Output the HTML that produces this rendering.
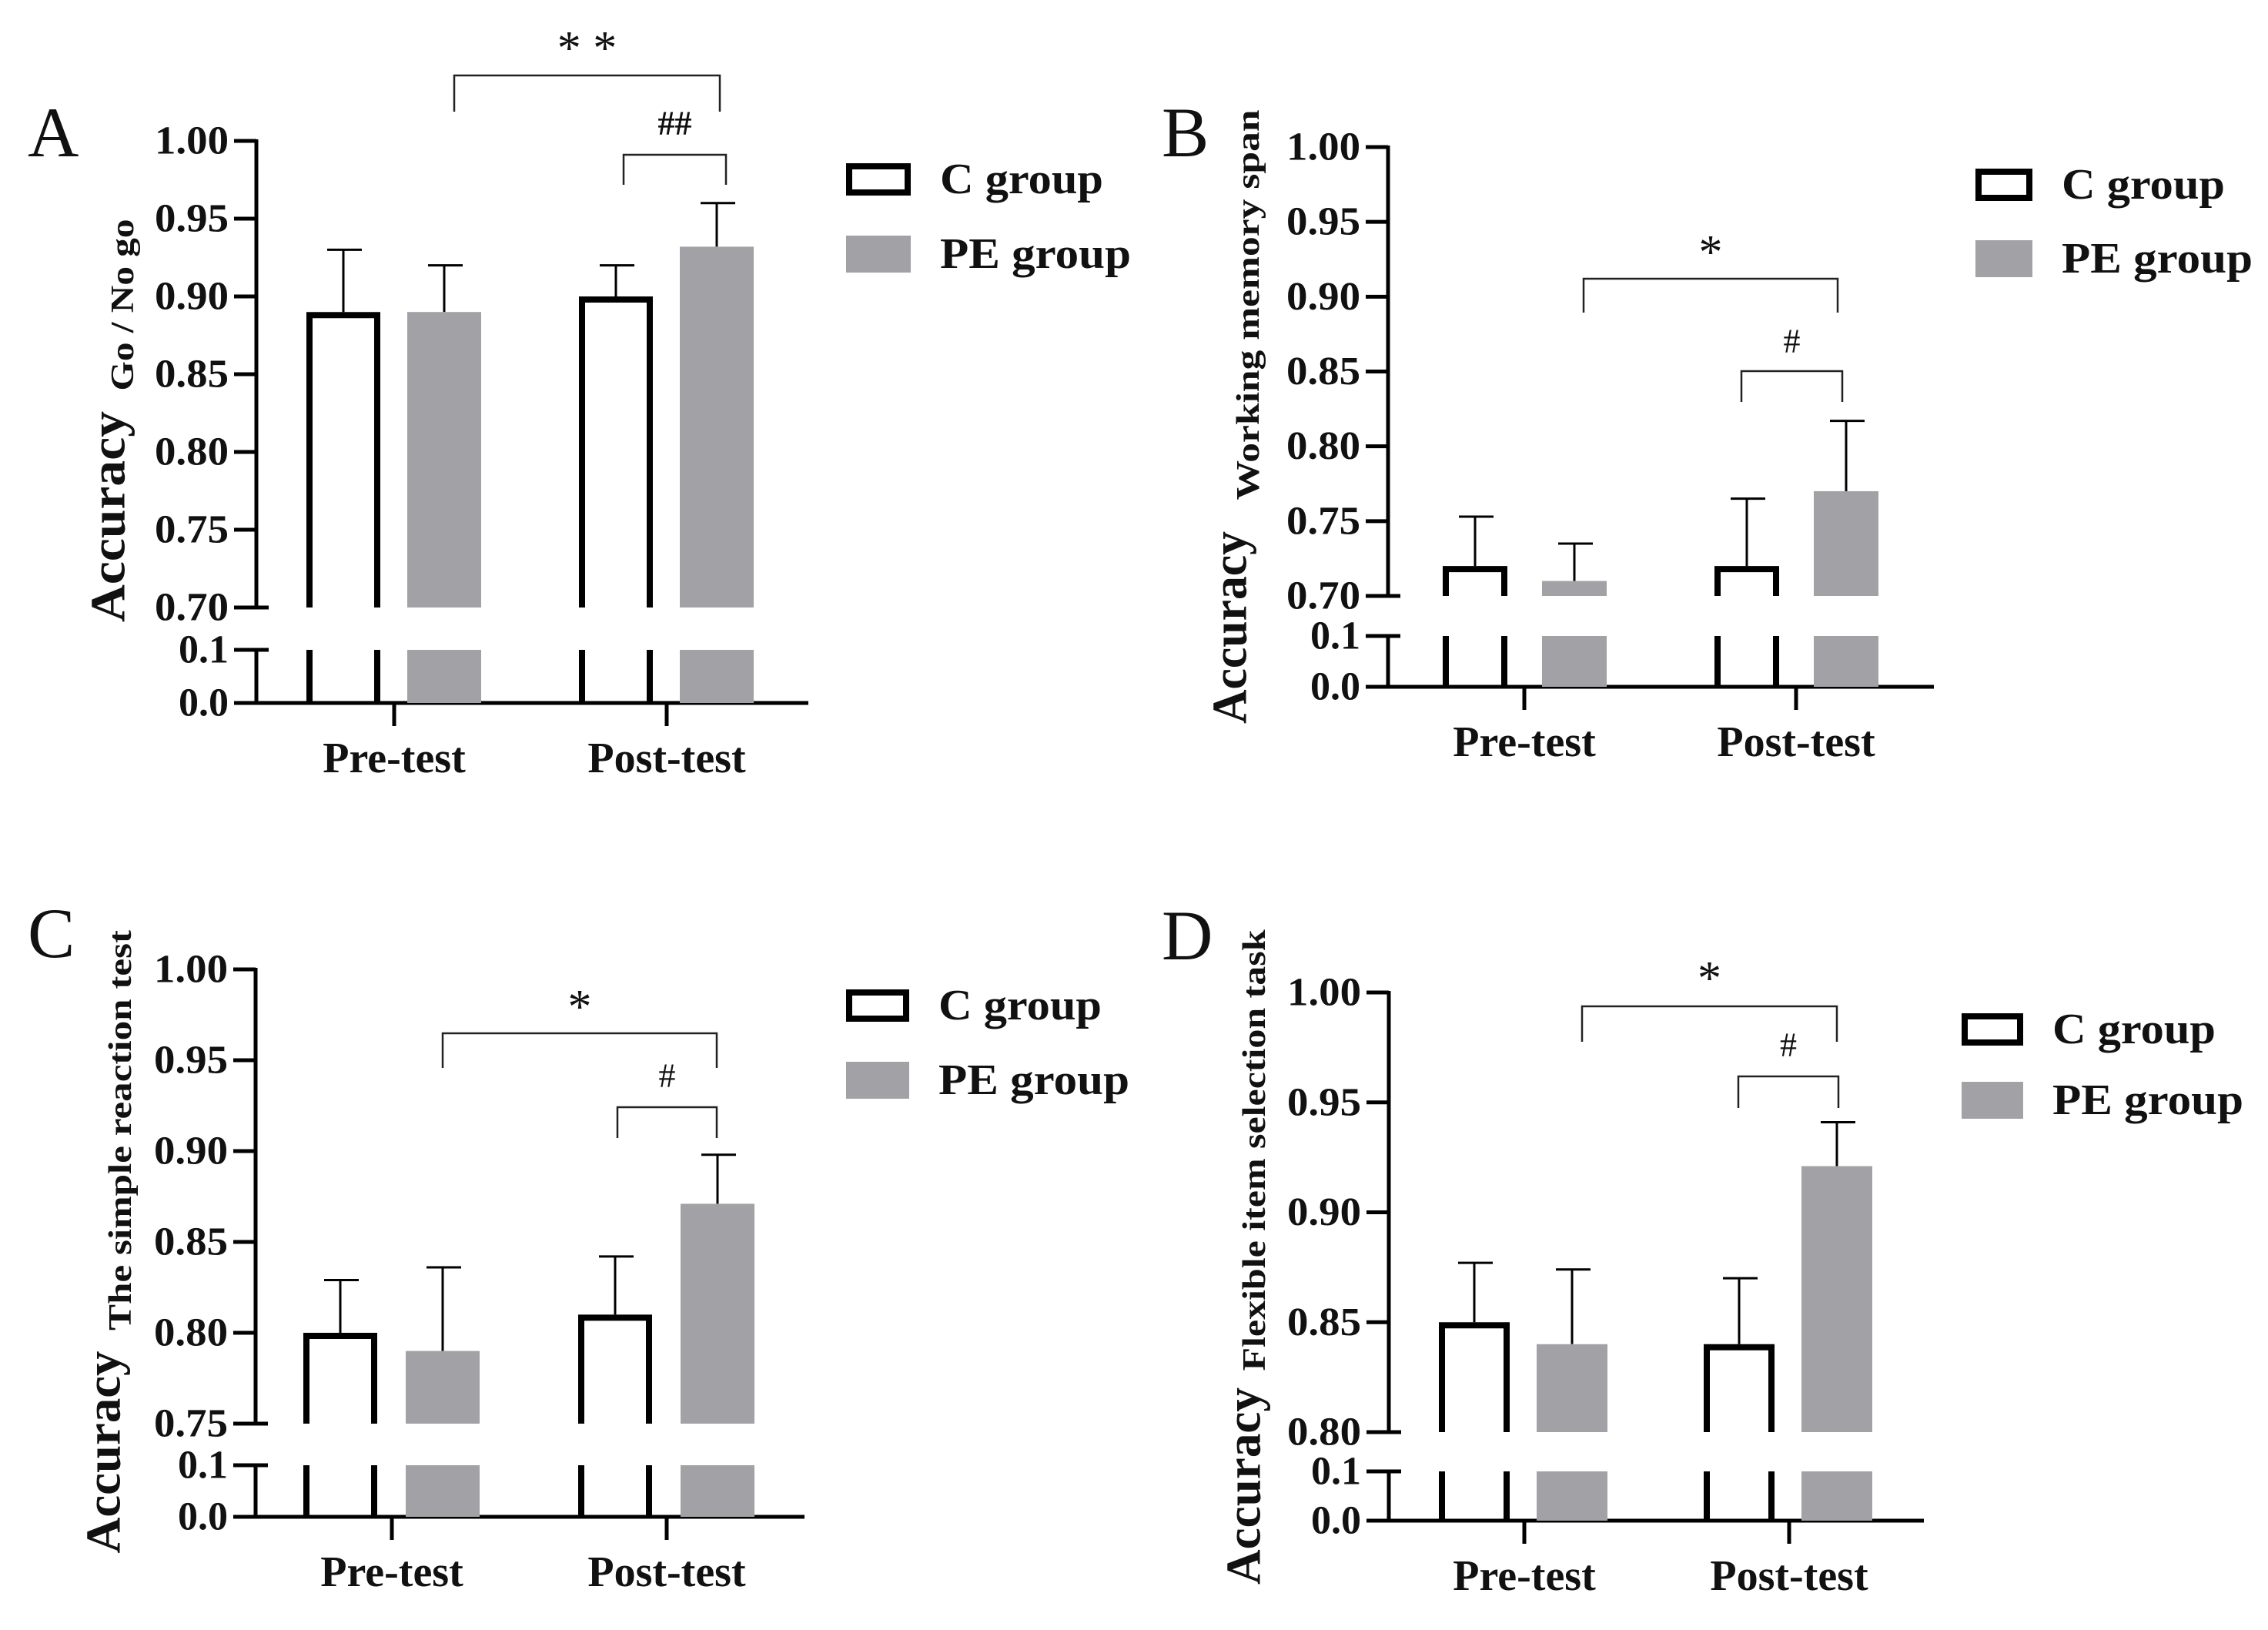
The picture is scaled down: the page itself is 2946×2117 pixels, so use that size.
<!DOCTYPE html>
<html><head><meta charset="utf-8">
<style>
html,body{margin:0;padding:0;background:#fff;}
svg{display:block;}
text{font-family:"Liberation Serif",serif;fill:#111;}
</style></head>
<body>
<svg id="fig" width="2946" height="2117" viewBox="0 0 2946 2117" xmlns="http://www.w3.org/2000/svg"></svg>
<script>
// ---- data ----
const categories = ["Pre-test", "Post-test"];
const groups = ["C group", "PE group"];
// Panel A
const aMeans = [0.89, 0.89, 0.90, 0.932];
const aErrs  = [0.93, 0.92, 0.92, 0.96];
const aTicks = ["1.00","0.95","0.90","0.85","0.80","0.75","0.70"];
const aTickVals = [1.00,0.95,0.90,0.85,0.80,0.75,0.70];
// Panel B
const bMeans = [0.72, 0.71, 0.72, 0.77];
const bErrs  = [0.753, 0.735, 0.765, 0.817];
const bTicks = ["1.00","0.95","0.90","0.85","0.80","0.75","0.70"];
const bTickVals = [1.00,0.95,0.90,0.85,0.80,0.75,0.70];
// Panel C
const cMeans = [0.80, 0.79, 0.81, 0.871];
const cErrs  = [0.829, 0.836, 0.842, 0.898];
const cTicks = ["1.00","0.95","0.90","0.85","0.80","0.75"];
const cTickVals = [1.00,0.95,0.90,0.85,0.80,0.75];
// Panel D
const dMeans = [0.85, 0.84, 0.84, 0.921];
const dErrs  = [0.877, 0.874, 0.870, 0.941];
const dTicks = ["1.00","0.95","0.90","0.85","0.80"];
const dTickVals = [1.00,0.95,0.90,0.85,0.80];
const lowTicks = ["0.1","0.0"];
const lowTickVals = [0.1, 0.0];

const NS = "http://www.w3.org/2000/svg";
const svg = document.getElementById("fig");
function el(tag, attrs, parent, txt){
  const e = document.createElementNS(NS, tag);
  for (const k in attrs) e.setAttribute(k, attrs[k]);
  if (txt !== undefined) e.textContent = txt;
  (parent || svg).appendChild(e);
  return e;
}
const GRAY = "#a2a2a6";

function panel(cfg){
  const g = el("g", {});
  
  
  const ax = cfg.axisX;
  const yTop = v => cfg.y1 + (cfg.max - v) / (cfg.max - cfg.min) * (cfg.yMin - cfg.y1);
  const yLowF = v => cfg.y0 - v / 0.1 * (cfg.y0 - cfg.yLow1);
  const L = el("text", {x: cfg.letterX, y: cfg.letterY, "font-size": 92}, g, cfg.letter);
  
  
  const ya = el("line", {x1: ax, y1: cfg.y1 - 2, x2: ax, y2: cfg.yMin, stroke: "#000", "stroke-width": 5}, g);
  
  
  cfg.tickVals.forEach((v, i) => {
    const y = yTop(v);
    const last = i === cfg.tickVals.length - 1;
    el("line", {x1: ax - 29, y1: y, x2: last ? ax + 16 : ax, y2: y, stroke: "#000", "stroke-width": 5}, g);
    const t = el("text", {x: ax - 36, y: y, "font-size": 52, "font-weight": "bold", "text-anchor": "end", "dominant-baseline": "central", textLength: 96, lengthAdjust: "spacingAndGlyphs"}, g, cfg.ticks[i]);
    
    
  });
  const yl = el("line", {x1: ax, y1: yLowF(0.1), x2: ax, y2: cfg.y0, stroke: "#000", "stroke-width": 5}, g);
  
  
  lowTickVals.forEach((v, i) => {
    const y = yLowF(v);
    if (v > 0) el("line", {x1: ax - 29, y1: y, x2: ax + 16, y2: y, stroke: "#000", "stroke-width": 5}, g);
    const t = el("text", {x: ax - 36, y: y, "font-size": 52, "font-weight": "bold", "text-anchor": "end", "dominant-baseline": "central"}, g, lowTicks[i]);
    
    
  });
  const xa = el("line", {x1: ax - 29, y1: cfg.y0, x2: cfg.xEnd, y2: cfg.y0, stroke: "#000", "stroke-width": 5}, g);
  
  
  categories.forEach((c, i) => {
    const cx = cfg.catX[i];
    el("line", {x1: cx, y1: cfg.y0, x2: cx, y2: cfg.y0 + 30, stroke: "#000", "stroke-width": 5}, g);
    const t = el("text", {x: cx, y: cfg.y0 + 72, "font-size": 56, "font-weight": "bold", "text-anchor": "middle", "dominant-baseline": "central"}, g, c);
    
    
  });
  cfg.means.forEach((m, i) => {
    const cat = Math.floor(i / 2), grp = i % 2;
    const x0 = cfg.catX[cat] + (grp === 0 ? -cfg.off0 : cfg.off1);
    const w = cfg.barW;
    const yT = yTop(m), yB = yTop(cfg.min);
    const cx = x0 + w / 2;
    const eb = el("g", {}, g);
    
    
    el("line", {x1: cx, y1: yTop(cfg.errs[i]), x2: cx, y2: yT, stroke: "#000", "stroke-width": 3}, eb);
    el("line", {x1: cx - 21, y1: yTop(cfg.errs[i]), x2: cx + 24, y2: yTop(cfg.errs[i]), stroke: "#000", "stroke-width": 3}, eb);
    const bar = el("g", {}, g);
    
    
    if (grp === 0) {
      el("path", {d: `M${x0 + 4} ${yB} V${yT + 4} H${x0 + w - 4} V${yB}`, fill: "none", stroke: "#000", "stroke-width": 8}, bar);
      el("line", {x1: x0 + 4, y1: yLowF(0.1), x2: x0 + 4, y2: cfg.y0, stroke: "#000", "stroke-width": 8}, bar);
      el("line", {x1: x0 + w - 4, y1: yLowF(0.1), x2: x0 + w - 4, y2: cfg.y0, stroke: "#000", "stroke-width": 8}, bar);
    } else {
      el("rect", {x: x0, y: yT, width: w, height: yB - yT, fill: GRAY}, bar);
      el("rect", {x: x0, y: yLowF(0.1), width: w, height: cfg.y0 - yLowF(0.1), fill: GRAY}, bar);
    }
  });
  cfg.brackets.forEach(b => {
    const bg = el("g", {}, g);
    
    
    el("path", {d: `M${b.x1} ${b.yl} V${b.y} H${b.x2} V${b.yl}`, fill: "none", stroke: "#222", "stroke-width": 2.5}, bg);
    el("text", {x: (b.x1 + b.x2) / 2 + (b.dx || 0), y: b.ty, "font-size": b.fs, "text-anchor": "middle", "dominant-baseline": "central", "font-weight": b.bold ? "bold" : "normal"}, bg, b.label);
  });
  const t1 = el("text", {transform: `translate(${cfg.accX},${cfg.accY}) rotate(-90)`, "font-size": 64, "font-weight": "bold", "text-anchor": "middle", "dominant-baseline": "central", textLength: cfg.accLen, lengthAdjust: "spacingAndGlyphs"}, g, "Accuracy");
  
  
  const t2 = el("text", {transform: `translate(${cfg.subX},${cfg.subY}) rotate(-90)`, "font-size": 42, "font-weight": "bold", "text-anchor": "middle", "dominant-baseline": "central", textLength: cfg.subLen, lengthAdjust: "spacingAndGlyphs"}, g, cfg.sub);
  
  
  const lg = el("g", {}, g);
  
  
  const l1 = el("g", {}, lg);
  
  
  el("rect", {x: cfg.legX + 4, y: cfg.legY1 - 17, width: cfg.legW - 8, height: 34, fill: "none", stroke: "#000", "stroke-width": 8}, l1);
  el("text", {x: cfg.legX + cfg.legW + 38, y: cfg.legY1, "font-size": 56, "font-weight": "bold", "dominant-baseline": "central", textLength: 212, lengthAdjust: "spacingAndGlyphs"}, l1, groups[0]);
  const l2 = el("g", {}, lg);
  
  
  el("rect", {x: cfg.legX, y: cfg.legY2 - 24, width: cfg.legW, height: 48, fill: GRAY}, l2);
  el("text", {x: cfg.legX + cfg.legW + 38, y: cfg.legY2, "font-size": 56, "font-weight": "bold", "dominant-baseline": "central", textLength: 248, lengthAdjust: "spacingAndGlyphs"}, l2, groups[1]);
}

panel({letter:"A", letterX:36, letterY:203, axisX:333, y1:183, yMin:789, min:0.70, max:1.00, yLow1:844, y0:913, xEnd:1050,
  ticks:aTicks, tickVals:aTickVals, catX:[512,866], off0:114, off1:17, barW:96, means:aMeans, errs:aErrs,
  brackets:[{x1:590,x2:935,y:98,yl:145,label:"* *",ty:63,fs:62},{x1:810,x2:943,y:201,yl:240,label:"##",ty:160,fs:44,bold:true}],
  accX:140, accY:671, accLen:274, subX:160, subY:396, subLen:223, sub:"Go / No go", legX:1099, legW:84, legY1:233, legY2:330});
panel({letter:"B", letterX:1509, letterY:203, axisX:1803, y1:191, yMin:774, min:0.70, max:1.00, yLow1:826, y0:892, xEnd:2512,
  ticks:bTicks, tickVals:bTickVals, catX:[1980,2333], off0:106, off1:23, barW:84, means:bMeans, errs:bErrs,
  brackets:[{x1:2057,x2:2387,y:362,yl:406,label:"*",ty:328,fs:62},{x1:2262,x2:2393,y:482,yl:522,label:"#",ty:443,fs:44}],
  accX:1597, accY:815, accLen:250, subX:1622, subY:396, subLen:507, sub:"Working memory span", legX:2566, legW:74, legY1:240, legY2:336});
panel({letter:"C", letterX:36, letterY:1243, axisX:332, y1:1259, yMin:1849, min:0.75, max:1.00, yLow1:1903, y0:1970, xEnd:1045,
  ticks:cTicks, tickVals:cTickVals, catX:[509,866], off0:115, off1:18, barW:96, means:cMeans, errs:cErrs,
  brackets:[{x1:575,x2:931,y:1342,yl:1387,label:"*",ty:1308,fs:62},{x1:802,x2:931,y:1438,yl:1478,label:"#",ty:1397,fs:44}],
  accX:134, accY:1886, accLen:263, subX:157, subY:1468, subLen:520, sub:"The simple reaction test", legX:1099, legW:82, legY1:1306, legY2:1403});
panel({letter:"D", letterX:1509, letterY:1246, axisX:1804, y1:1289, yMin:1860, min:0.80, max:1.00, yLow1:1911, y0:1975, xEnd:2499,
  ticks:dTicks, tickVals:dTickVals, catX:[1980,2324], off0:111, off1:16, barW:92, means:dMeans, errs:dErrs,
  brackets:[{x1:2055,x2:2386,y:1307,yl:1353,label:"*",ty:1271,fs:62},{x1:2258,x2:2388,y:1398,yl:1439,label:"#",ty:1357,fs:44}],
  accX:1615, accY:1930, accLen:256, subX:1630, subY:1494, subLen:573, sub:"Flexible item  selection task", legX:2548, legW:80, legY1:1337, legY2:1429});
</script>
</body></html>
